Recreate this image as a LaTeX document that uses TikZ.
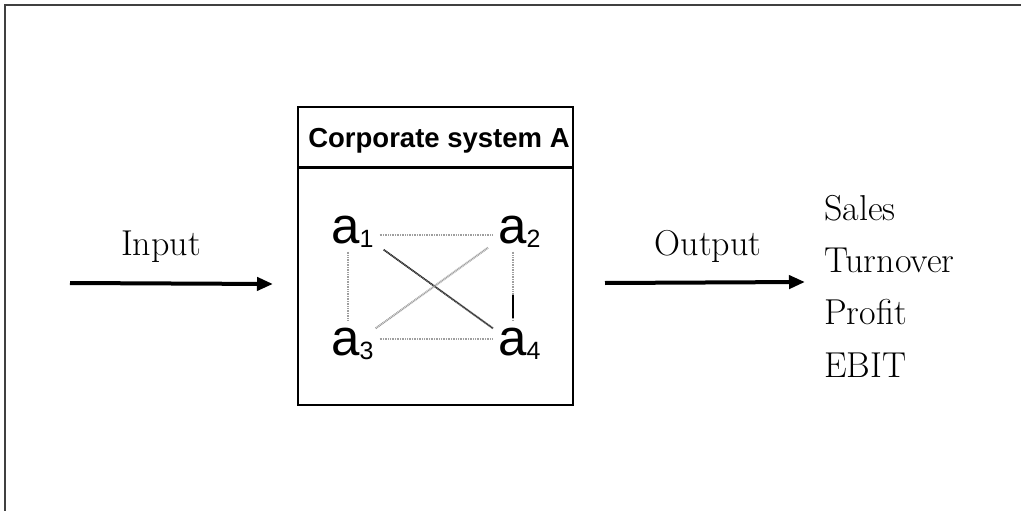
\documentclass[tikz,border=0pt]{standalone}
\usepackage{fontspec}
\newfontfamily\arialf{Liberation Sans}
\usetikzlibrary{calc,arrows.meta}
\newcommand{\asub}[1]{a\raisebox{-4.5pt}{\fontsize{25}{25}\selectfont #1}}
\begin{document}
\begin{tikzpicture}[x=1pt,y=-1pt,
  serif/.style={font=\fontsize{36}{52}\selectfont, inner sep=0pt},
  anode/.style={font=\arialf\fontsize{51}{51}\selectfont, inner sep=0pt, anchor=base west},
  bigarrow/.style={line width=4pt, -{Triangle[length=16pt,width=13pt]}},
  dotline/.style={line width=2.6pt, gray!75, dash pattern=on 1pt off 0.7pt},
  darkline/.style={line width=1.8pt, black!80, dash pattern=on 1.2pt off 0.5pt},
  solidline/.style={line width=2pt, black},
  ]
\useasboundingbox (0,0) rectangle (1021,511);
% outer frame
\draw[line width=2pt, black!75] (5,520) -- (5,5) -- (1030,5);
% system box
\node[draw, line width=2pt, minimum width=275pt, minimum height=298pt, inner sep=0pt, anchor=north west] (sys) at (297,106) {};
\draw[line width=3pt] ($(sys.north west)+(0,61)$) -- ($(sys.north east)+(0,61)$);
\node[font=\arialf\bfseries\fontsize{27.5}{30}\selectfont, inner sep=0pt, anchor=base] (title) at (439,147) {Corporate system A};
% elements
\node[anode] (a1) at (331,243) {\asub{1}};
\node[anode] (a2) at (498,243) {\asub{2}};
\node[anode] (a3) at (331,355) {\asub{3}};
\node[anode] (a4) at (498,355) {\asub{4}};
\draw[dotline] ($(a1.base east)+(6,-8)$) -- ($(a2.base west)+(-6,-8)$);
\draw[dotline] ($(a3.base east)+(6,-16)$) -- ($(a4.base west)+(-6,-16)$);
\draw[dotline] ($(a1.south west)+(17,4)$) -- ($(a3.north west)+(17,-6)$);
\draw[dotline] ($(a2.south west)+(15,4)$) -- ($(a4.north west)+(15,-6)$);
\draw[solidline] ($(a4.north west)+(15,-32)$) -- ($(a4.north west)+(15,-9)$);
\draw[darkline] ($(a1.south east)+(10,2)$) -- ($(a4.north west)+(-5,1)$);
\draw[dotline, line width=2pt] ($(a3.north east)+(2,1)$) -- ($(a2.south west)+(-10,0)$);
% labels
\node[serif, anchor=base] (inlab) at (161,255) {Input};
\node[serif, anchor=base] (outlab) at (708,255) {Output};
\node[serif, anchor=base west] (sales) at (824,220) {Sales};
\node[serif, anchor=base west] (turn) at (824,272) {Turnover};
\node[serif, anchor=base west] (profit) at (824,324) {Profit};
\node[serif, anchor=base west] (ebit) at (824,377) {EBIT};
% arrows
\coordinate (inS) at (70,283);
\draw[bigarrow] (inS) -- ($(sys.west)+(-24,28)$);
\draw[bigarrow] ($(sys.east)+(31,27)$) -- ($(turn.base west)+(-19,10)$);
\end{tikzpicture}
\end{document}
